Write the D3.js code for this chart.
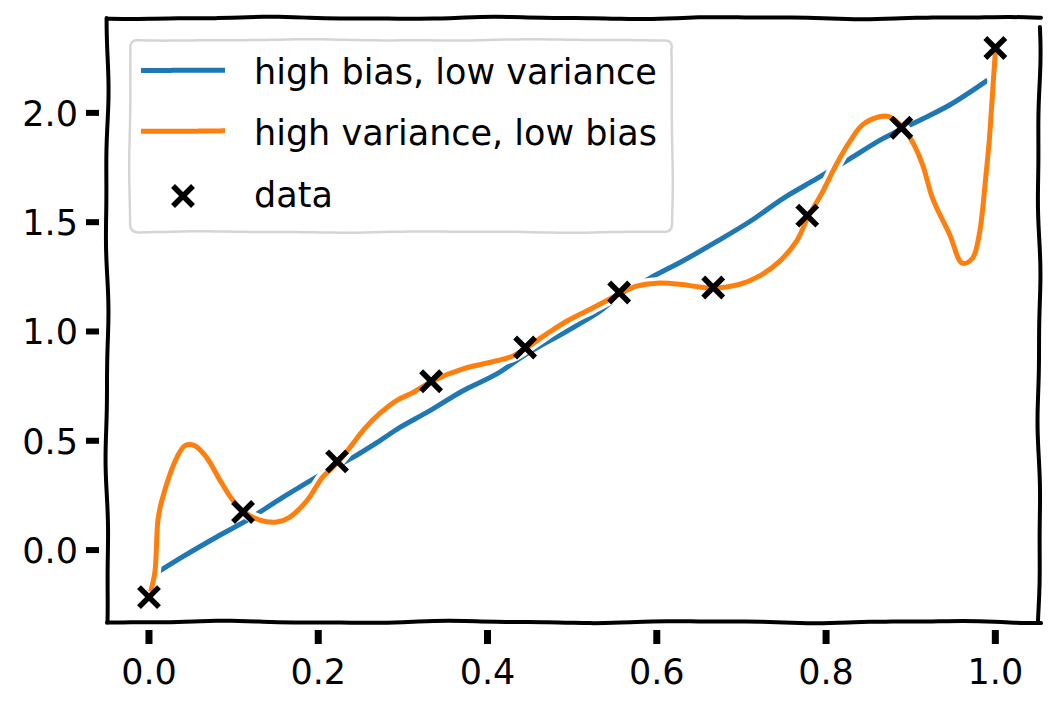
<!DOCTYPE html>
<html>
<head>
<meta charset="utf-8">
<script src="https://d3js.org/d3.v7.min.js"></script>
<style>
html,body{margin:0;padding:0;background:#fff;}
svg text{font-family:"DejaVu Sans",sans-serif;fill:#000;}
</style>
</head>
<body>
<svg id="chart" width="1059" height="716"></svg>
<script>
// ---- data ----
const dataX = [0, 1/9, 2/9, 3/9, 4/9, 5/9, 6/9, 7/9, 8/9, 1];
const dataY = [-0.215, 0.174, 0.406, 0.772, 0.927, 1.178, 1.201, 1.530, 1.932, 2.297];

const biasX = [0.005, 0.04, 0.08, 0.116, 0.158, 0.205, 0.241, 0.273, 0.296, 0.332, 0.371, 0.411, 0.446, 0.494, 0.532, 0.548, 0.592, 0.630, 0.671, 0.710, 0.749, 0.789, 0.828, 0.867, 0.907, 0.946, 0.991];
const biasY = [-0.114, -0.03, 0.06, 0.137, 0.241, 0.35, 0.424, 0.501, 0.56, 0.638, 0.729, 0.806, 0.897, 1.002, 1.09, 1.139, 1.244, 1.321, 1.412, 1.503, 1.608, 1.699, 1.79, 1.882, 1.959, 2.036, 2.15];

const varX = [0.002, 0.007, 0.0106, 0.0153, 0.033, 0.0425, 0.054, 0.068, 0.084, 0.099, 0.113, 0.131, 0.151, 0.166, 0.187, 0.205, 0.223, 0.241, 0.253, 0.273, 0.293, 0.312, 0.335, 0.371, 0.411, 0.43, 0.446, 0.47, 0.494, 0.524, 0.556, 0.576, 0.600, 0.627, 0.651, 0.666, 0.698, 0.721, 0.745, 0.765, 0.778, 0.796, 0.812, 0.828, 0.843, 0.863, 0.875, 0.890, 0.902, 0.914, 0.926, 0.946, 0.961, 0.973, 0.981, 0.989, 0.993, 0.997, 1.0];
const varY = [-0.19, -0.10, 0.137, 0.228, 0.424, 0.478, 0.478, 0.424, 0.319, 0.228, 0.173, 0.137, 0.128, 0.150, 0.228, 0.333, 0.401, 0.487, 0.548, 0.626, 0.685, 0.721, 0.774, 0.829, 0.866, 0.888, 0.925, 0.989, 1.048, 1.107, 1.171, 1.207, 1.221, 1.216, 1.203, 1.198, 1.216, 1.253, 1.321, 1.412, 1.517, 1.640, 1.763, 1.868, 1.945, 1.982, 1.982, 1.936, 1.868, 1.763, 1.608, 1.444, 1.312, 1.335, 1.444, 1.718, 1.882, 2.109, 2.278];

const xTicks = [0.0, 0.2, 0.4, 0.6, 0.8, 1.0];
const yTicks = [0.0, 0.5, 1.0, 1.5, 2.0];
const legendLabels = ["high bias, low variance", "high variance, low bias", "data"];
const colors = ["#1f77b4", "#ff7f0e"];

// ---- layout ----
const svg = d3.select("#chart");
const L = 107, R = 1039, T = 18, B = 622;
const x = d3.scaleLinear().domain([-0.0496, 1.0516]).range([L, R]);
const y = d3.scaleLinear().domain([-0.329, 2.434]).range([B, T]);

// wiggly path helper (decorative hand-drawn look)
function wiggle(x0, y0, x1, y1, amp, seed) {
  const n = 60, pts = [];
  const dx = x1 - x0, dy = y1 - y0, len = Math.hypot(dx, dy);
  const nx = -dy / len, ny = dx / len;
  for (let i = 0; i <= n; i++) {
    const t = i / n;
    const o = amp * (Math.sin(t * len / 38 + seed) * 0.7 + Math.sin(t * len / 17 + seed * 2.3) * 0.3);
    pts.push([x0 + dx * t + nx * o, y0 + dy * t + ny * o]);
  }
  return d3.line().curve(d3.curveBasis)(pts);
}

// spines
const spines = svg.append("g").attr("fill", "none").attr("stroke", "#000").attr("stroke-width", 4).attr("stroke-linecap", "round");
spines.append("path").attr("d", wiggle(L, T, R + 2, T, 1.3, 0.5));
spines.append("path").attr("d", wiggle(L, B, R + 2, B, 1.3, 1.7));
spines.append("path").attr("d", wiggle(L, T, L, B, 1.6, 2.9));
spines.append("path").attr("d", wiggle(R, T + 9, R, B, 1.6, 4.1));

// ticks
const gx = svg.append("g");
gx.selectAll("rect").data(xTicks).join("rect")
  .attr("x", d => x(d) - 3.5).attr("y", B + 8).attr("width", 7).attr("height", 14).attr("fill", "#000");
gx.selectAll("text").data(xTicks).join("text")
  .attr("x", d => x(d)).attr("y", B + 62).attr("text-anchor", "middle")
  .style("font-size", "35px").text(d => d.toFixed(1));

const gy = svg.append("g");
gy.selectAll("rect").data(yTicks).join("rect")
  .attr("x", L - 21).attr("y", d => y(d) - 3).attr("width", 13).attr("height", 6).attr("fill", "#000");
gy.selectAll("text").data(yTicks).join("text")
  .attr("x", L - 29).attr("y", d => y(d) + 13).attr("text-anchor", "end")
  .style("font-size", "35px").text(d => d.toFixed(1));

// lines
const line = d3.line().x(d => x(d[0])).y(d => y(d[1])).curve(d3.curveCatmullRom);
const series = [d3.zip(biasX, biasY), d3.zip(varX, varY)];
series.forEach((s, i) => {
  svg.append("path").attr("d", line(s)).attr("fill", "none").attr("stroke", "#fff")
    .attr("stroke-width", 12).attr("stroke-linejoin", "round").attr("stroke-linecap", "round");
  svg.append("path").attr("d", line(s)).attr("fill", "none").attr("stroke", colors[i])
    .attr("stroke-width", 5).attr("stroke-linejoin", "round").attr("stroke-linecap", "butt");
});

// markers
function cross(g, cx, cy, r, sw) {
  g.append("path").attr("d", `M${cx - r},${cy - r}L${cx + r},${cy + r}M${cx - r},${cy + r}L${cx + r},${cy - r}`)
    .attr("stroke", "#000").attr("stroke-width", sw).attr("fill", "none");
}
const gm = svg.append("g");
d3.zip(dataX, dataY).forEach(d => cross(gm, x(d[0]), y(d[1]), 10, 5.5));

// legend
const lg = svg.append("g");
const lx0 = 130, ly0 = 40, lx1 = 672, ly1 = 232, rr = 8;
lg.append("path")
  .attr("d", `M${lx0 + rr},${ly0}` +
    wiggle(lx0 + rr, ly0, lx1 - rr, ly0, 0.8, 0.3).replace(/^M[^C L]*/, "") +
    `Q${lx1},${ly0} ${lx1},${ly0 + rr}` +
    wiggle(lx1, ly0 + rr, lx1, ly1 - rr, 0.8, 1.3).replace(/^M[^C L]*/, "") +
    `Q${lx1},${ly1} ${lx1 - rr},${ly1}` +
    wiggle(lx1 - rr, ly1, lx0 + rr, ly1, 0.8, 2.3).replace(/^M[^C L]*/, "") +
    `Q${lx0},${ly1} ${lx0},${ly1 - rr}` +
    wiggle(lx0, ly1 - rr, lx0, ly0 + rr, 0.8, 3.3).replace(/^M[^C L]*/, "") +
    `Q${lx0},${ly0} ${lx0 + rr},${ly0}Z`)
  .attr("fill", "#fff").attr("fill-opacity", 0.85).attr("stroke", "#d5d5d5").attr("stroke-width", 2.5);

const rowY = [70, 131, 193];
[0, 1].forEach(i => {
  lg.append("path").attr("d", wiggle(141, rowY[i], 225, rowY[i], 0.6, i + 0.7))
    .attr("stroke", colors[i]).attr("stroke-width", 5).attr("fill", "none");
});
cross(lg, 183, rowY[2] + 3, 10, 5.5);
legendLabels.forEach((t, i) => {
  lg.append("text").attr("x", 254).attr("y", rowY[i] + 14).style("font-size", "35px").text(t);
});
</script>
</body>
</html>
